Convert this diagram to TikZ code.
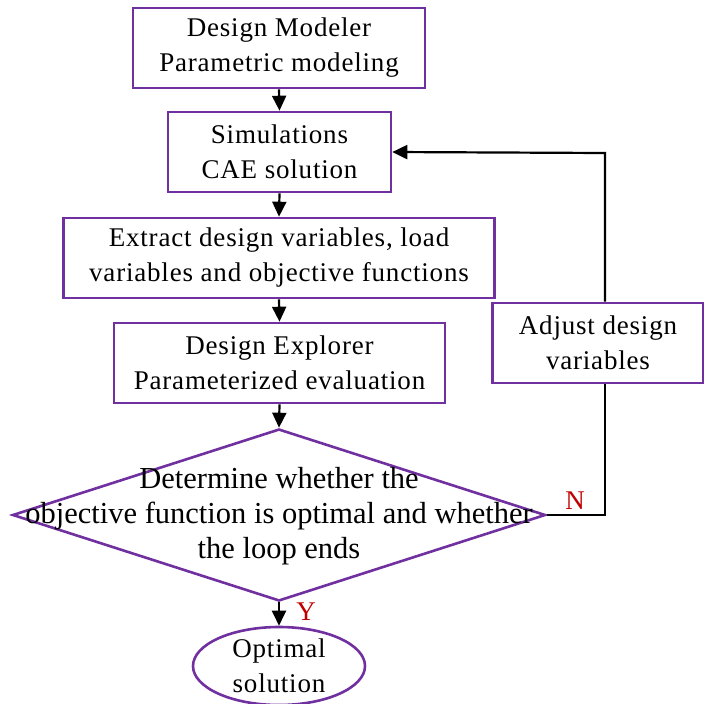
\documentclass[tikz,border=0pt]{standalone}
\usepackage{fontspec}
\setmainfont{Liberation Serif}
\newfontfamily\boxfont[LetterSpace=3]{Liberation Serif}
\usetikzlibrary{shapes.geometric,arrows.meta}
\definecolor{boxpurple}{RGB}{112,48,160}
\definecolor{lblred}{RGB}{192,0,0}
\tikzset{
  x=1pt,y=-1pt,
  procbox/.style={draw=boxpurple,line width=2.6pt,fill=white,inner sep=0pt,
    minimum height=80pt,align=center,font=\boxfont\fontsize{27}{35}\selectfont},
  flow/.style={line width=2.2pt,-{Triangle[length=15pt,width=14pt]}},
  plain/.style={line width=2.2pt},
  lbl/.style={text=lblred,font=\fontsize{27}{30}\selectfont,inner sep=0pt}
}
\begin{document}
\begin{tikzpicture}
\useasboundingbox (0,0) rectangle (704,704);
\node[procbox,minimum width=292pt] (dm) at (279,48) {Design Modeler\\Parametric modeling};
\node[procbox,minimum width=223pt] (sim) at (279.5,152) {Simulations\\CAE solution};
\node[procbox,minimum width=431pt] (ext) at (279,258) {Extract design variables, load\\variables and objective functions};
\node[procbox,minimum width=331pt] (de) at (279.5,363) {Design Explorer\\Parameterized evaluation};
\node[procbox,minimum width=211pt] (adj) at (598,343) {Adjust design\\variables};
\node[diamond,draw=boxpurple,line width=2.6pt,minimum width=533pt,minimum height=172pt,inner sep=0pt] (dec) at (279,515) {};
\node[align=center,inner sep=0pt,font=\fontsize{30.5}{35}\selectfont] (dect) at (279,516) {Determine whether the\\objective function is optimal and whether\\the loop ends};
\node[ellipse,draw=boxpurple,line width=2.6pt,minimum width=172pt,minimum height=78pt,inner sep=0pt,align=center,font=\boxfont\fontsize{27}{35}\selectfont] (opt) at (279,666) {Optimal\\solution};
\coordinate (fb1) at (605,515);
\coordinate (fb2) at (605,153);
\draw[flow] (dm.south) -- (sim.north);
\draw[flow] (sim.south) -- (ext.north);
\draw[flow] (ext.south) -- (de.north);
\draw[flow] (de.south) -- (dec.north);
\draw[flow] (dec.south) -- (opt.north);
\draw[plain] (dec.east) -- (fb1) -- (fb1 |- adj.south);
\draw[flow] (fb2 |- adj.north) -- (fb2) -- (sim.east);
\node[lbl] (nl) at (575,501) {N};
\node[lbl] (yl) at (306,612) {Y};
\end{tikzpicture}
\end{document}
